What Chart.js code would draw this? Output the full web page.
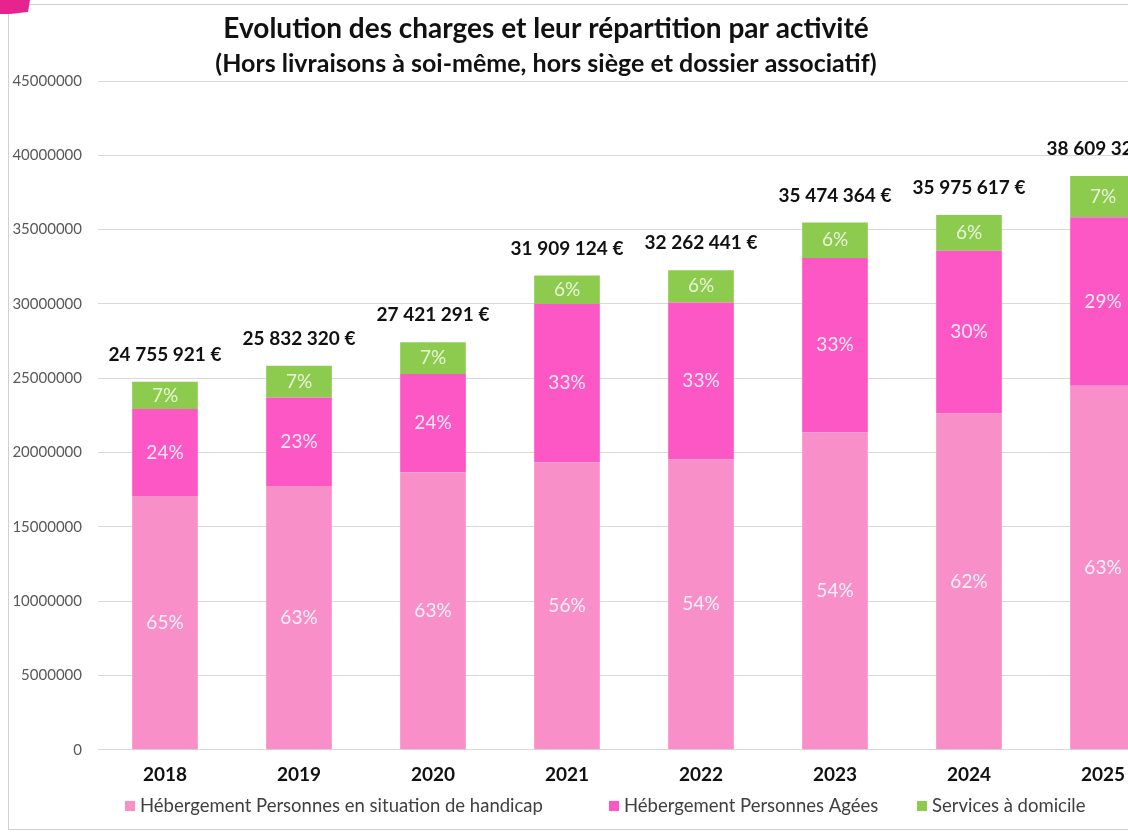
<!DOCTYPE html>
<html>
<head>
<meta charset="utf-8">
<script src="https://cdn.jsdelivr.net/npm/chart.js@4/dist/chart.umd.min.js"></script>
<style>
html,body{margin:0;padding:0;background:#fff;overflow:hidden;width:1128px;height:832px;}
#wrap{position:absolute;left:0;top:0;width:1180px;height:832px;}
canvas{display:block;}
</style>
</head>
<body>
<div id="wrap"><canvas id="c" width="1180" height="832"></canvas></div>
<script>
const years = ['2018','2019','2020','2021','2022','2023','2024','2025'];
const handicap = [17080000, 17750000, 18650000, 19320000, 19550000, 21340000, 22620000, 24490000];
const agees    = [5840000, 5950000, 6630000, 10670000, 10550000, 11750000, 10960000, 11340000];
const domicile = [1840000, 2130000, 2140000, 1920000, 2160000, 2380000, 2400000, 2780000];
const pctHandicap = ['65%','63%','63%','56%','54%','54%','62%','63%'];
const pctAgees    = ['24%','23%','24%','33%','33%','33%','30%','29%'];
const pctDomicile = ['7%','7%','7%','6%','6%','6%','6%','7%'];
const totalLabels = ['24 755 921 €','25 832 320 €','27 421 291 €','31 909 124 €','32 262 441 €','35 474 364 €','35 975 617 €','38 609 322 €'];
const seriesNames = ['Hébergement Personnes en situation de handicap','Hébergement Personnes Agées','Services à domicile'];
const titleLines = ['Evolution des charges et leur répartition par activité','(Hors livraisons à soi-même, hors siège et dossier associatif)'];

const COLORS = ['#F98FC9','#FD57C6','#8DCB4E'];
const LABEL_COLORS = ['#FFF2F9','#FFEAF6','#EAF6DC'];
const FONT = 'Lato, "Open Sans", sans-serif';

const decoPlugin = {
  id:'deco',
  beforeDraw(chart){
    const ctx = chart.ctx;
    ctx.save();
    ctx.fillStyle='#fff';
    ctx.fillRect(0,0,chart.width,chart.height);
    ctx.strokeStyle='#D0D0D0';
    ctx.lineWidth=1;
    ctx.beginPath();
    ctx.moveTo(8.5,4); ctx.lineTo(8.5,830);
    ctx.moveTo(8,4.5); ctx.lineTo(chart.width,4.5);
    ctx.moveTo(8,829.5); ctx.lineTo(chart.width,829.5);
    ctx.stroke();
    ctx.fillStyle='#E5248F';
    ctx.beginPath();
    ctx.moveTo(0,0); ctx.lineTo(30,0); ctx.lineTo(28,12); ctx.lineTo(10,14); ctx.lineTo(0,14);
    ctx.closePath(); ctx.fill();
    ctx.restore();
  },
  afterDraw(chart){
    const ctx = chart.ctx;
    ctx.save();
    ctx.fillStyle='#111';
    ctx.textAlign='center';
    ctx.textBaseline='middle';
    ctx.font='bold 28px '+FONT;
    ctx.fillText(titleLines[0],546,29);
    ctx.font='bold 25px '+FONT;
    ctx.fillText(titleLines[1],546,64);
    const starts=[125,609,917];
    ctx.font='18.5px '+FONT;
    ctx.textAlign='left';
    chart.data.datasets.forEach((ds,i)=>{
      ctx.fillStyle=ds.backgroundColor;
      ctx.fillRect(starts[i],801,10,10);
      ctx.fillStyle='#404040';
      ctx.fillText(ds.label,starts[i]+15,806);
    });
    ctx.restore();
  }
};

const labelPlugin = {
  id:'segLabels',
  afterDatasetsDraw(chart){
    const ctx = chart.ctx;
    const pcts=[pctHandicap,pctAgees,pctDomicile];
    ctx.save();
    ctx.textAlign='center';
    ctx.textBaseline='middle';
    ctx.font='19px '+FONT;
    chart.data.datasets.forEach((ds,di)=>{
      const meta = chart.getDatasetMeta(di);
      meta.data.forEach((el,i)=>{
        ctx.fillStyle=LABEL_COLORS[di];
        ctx.fillText(pcts[di][i], el.x, (el.y+el.base)/2);
      });
    });
    const top = chart.getDatasetMeta(chart.data.datasets.length-1);
    ctx.font='bold 19px '+FONT;
    ctx.fillStyle='#111';
    top.data.forEach((el,i)=>{
      ctx.fillText(totalLabels[i], el.x, el.y-27);
    });
    ctx.restore();
  }
};

new Chart(document.getElementById('c'),{
  type:'bar',
  data:{
    labels:years,
    datasets:[
      {label:seriesNames[0],data:handicap,backgroundColor:COLORS[0]},
      {label:seriesNames[1],data:agees,backgroundColor:COLORS[1]},
      {label:seriesNames[2],data:domicile,backgroundColor:COLORS[2]}
    ]
  },
  options:{
    responsive:false,
    animation:false,
    devicePixelRatio:1,
    layout:{padding:{left:8,right:10,top:81,bottom:31.5}},
    datasets:{bar:{categoryPercentage:1,barPercentage:0.49,borderWidth:0}},
    plugins:{legend:{display:false},title:{display:false},tooltip:{enabled:false}},
    scales:{
      x:{stacked:true,
         grid:{display:false,drawTicks:false},
         border:{display:false},
         ticks:{padding:14,color:'#111',font:{family:FONT,size:19,weight:'bold'}}},
      y:{stacked:true,min:0,max:45000000,
         afterFit(s){s.width=90;},
         grid:{color:'#D9D9D9',drawTicks:false},
         border:{display:false},
         ticks:{stepSize:5000000,padding:16,color:'#595959',font:{family:FONT,size:15},
                callback:v=>String(v)}}
    }
  },
  plugins:[decoPlugin,labelPlugin]
});
</script>
</body>
</html>
